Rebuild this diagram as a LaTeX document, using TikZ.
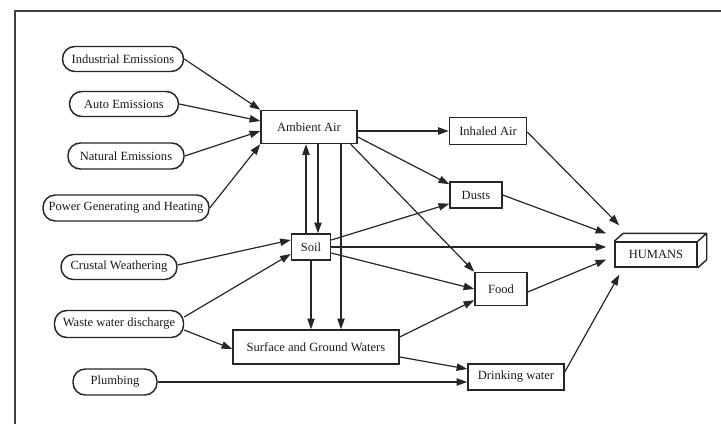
\documentclass[tikz,border=0pt]{standalone}
\usepackage{fontspec}
\setmainfont{Liberation Serif}
\usetikzlibrary{arrows.meta,calc}
\begin{document}
\begin{tikzpicture}[x=0.75pt,y=-0.75pt,
  every node/.style={font=\fontsize{9.4}{11}\selectfont, inner sep=0pt, text=black!90},
  src/.style={draw=black!85, line width=1.1pt, rounded corners=9.2pt, rectangle},
  box/.style={draw=black!85, line width=1.1pt, rectangle},
  conn/.style={draw=black!85, line width=0.9pt, -{Triangle[length=8pt,width=5.5pt]}},
  frame/.style={draw=black!75, line width=1.3pt}]
\useasboundingbox (0,0) rectangle (721,424);
\coordinate (fbl) at (15,424);
\coordinate (ftl) at (15,11);
\coordinate (ftr) at (721,11);
\draw[frame] (fbl) -- (ftl) -- (ftr);

% sources
\node[src, minimum width=90.75pt, minimum height=18.75pt] (ind) at (123,59) {Industrial Emissions};
\node[src, minimum width=81.75pt, minimum height=18.75pt] (auto) at (124,104) {Auto Emissions};
\node[src, minimum width=87pt, minimum height=19.5pt] (nat) at (126,156) {Natural Emissions};
\node[src, minimum width=124.5pt, minimum height=19.5pt] (pow) at (126,208) {Power Generating and Heating};
\node[src, minimum width=87pt, minimum height=18.75pt] (crust) at (119,267) {Crustal Weathering};
\node[src, minimum width=96.75pt, minimum height=20.25pt] (waste) at (119,324) {Waste water discharge};
\node[src, minimum width=63pt, minimum height=19.5pt] (plumb) at (115,382) {Plumbing};

% boxes
\node[box, minimum width=72pt, minimum height=24.75pt] (amb) at (309,127) {Ambient Air};
\node[box, minimum width=57.75pt, minimum height=20.25pt] (inh) at (488,131) {Inhaled Air};
\node[box, minimum width=39pt, minimum height=19.5pt] (dust) at (476,195) {Dusts};
\node[box, minimum width=29.25pt, minimum height=19.5pt] (soil) at (311,247) {Soil};
\node[box, minimum width=39pt, minimum height=24.75pt] (food) at (501,289) {Food};
\node[box, minimum width=124.5pt, minimum height=25.5pt] (surf) at (316,347) {Surface and Ground Waters};
\node[box, minimum width=72pt, minimum height=19.5pt] (drink) at (516,377) {Drinking water};
\node[box, minimum width=61.5pt, minimum height=18.75pt] (hum) at (656,254.5) {HUMANS};
\draw[draw=black!85, line width=1.1pt, line join=round]
  (hum.north west) -- ++(9,-8) -- ($(hum.north east)+(9,-8)$) -- ($(hum.south east)+(9,-8)$) -- (hum.south east)
  (hum.north east) -- ++(9,-8);

% into ambient air
\draw[conn] (ind.east) -- (amb.north west);
\draw[conn] (auto.east) -- ($(amb.west)+(0,-6)$);
\draw[conn] (nat.east) -- ($(amb.west)+(0,4)$);
\draw[conn] (pow.east) -- (amb.south west);

% vertical links
\coordinate (s1) at ($(soil.north)+(-5,0)$);
\draw[conn] (s1) -- (s1 |- amb.south);
\coordinate (s2) at ($(soil.north)+(7,0)$);
\draw[conn] (s2 |- amb.south) -- (s2);
\coordinate (s3) at ($(amb.south)+(32,0)$);
\draw[conn] (s3) -- (s3 |- surf.north);
\draw[conn] (soil.south) -- (soil.south |- surf.north);

% from ambient air
\coordinate (a1) at ($(amb.east)+(0,4)$);
\draw[conn] (a1) -- (a1 -| inh.west);
\draw[conn] ($(amb.east)+(0,10)$) -- ($(dust.north west)+(0,3)$);
\draw[conn] ($(amb.south east)+(-7,0)$) -- (food.north west);

% from soil
\draw[conn] ($(soil.east)+(0,-7)$) -- ($(dust.south west)+(0,-5)$);
\draw[conn] (soil.east) -- ($(hum.west)+(-8,-7.5)$);
\draw[conn] ($(soil.east)+(0,6)$) -- (food.west);

% into humans
\draw[conn] ($(inh.east)+(0,1)$) -- ($(hum.north west)+(5,-16)$);
\draw[conn] (dust.east) -- ($(hum.west)+(-8,-21)$);
\draw[conn] ($(food.east)+(0,3)$) -- ($(hum.west)+(-8,5)$);
\draw[conn] ($(drink.east)+(0,-5)$) -- ($(hum.south west)+(5,7)$);

% lower sources
\draw[conn] ($(crust.east)+(0,-2)$) -- ($(soil.west)+(0,-7)$);
\draw[conn] ($(waste.east)+(0,-7)$) -- ($(soil.west)+(0,7)$);
\draw[conn] ($(waste.east)+(0,6)$) -- ($(surf.west)+(0,2)$);
\draw[conn] (plumb.east) -- (plumb.east -| drink.west);
\draw[conn] ($(surf.east)+(0,-10)$) -- ($(food.south west)+(0,-6)$);
\draw[conn] ($(surf.east)+(0,10)$) -- ($(drink.west)+(0,-8)$);
\end{tikzpicture}
\end{document}
